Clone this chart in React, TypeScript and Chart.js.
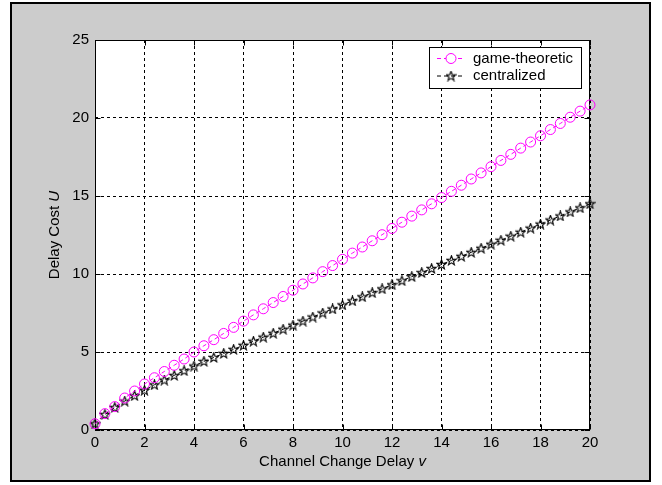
import React, { useEffect, useRef } from "react";
import { Chart, registerables } from "chart.js";

Chart.register(...registerables);

const delayV = [0, 0.4, 0.8, 1.2, 1.6, 2, 2.4, 2.8, 3.2, 3.6, 4, 4.4, 4.8, 5.2, 5.6, 6, 6.4, 6.8, 7.2, 7.6, 8, 8.4, 8.8, 9.2, 9.6, 10, 10.4, 10.8, 11.2, 11.6, 12, 12.4, 12.8, 13.2, 13.6, 14, 14.4, 14.8, 15.2, 15.6, 16, 16.4, 16.8, 17.2, 17.6, 18, 18.4, 18.8, 19.2, 19.6, 20];
const gameTheoretic = [0.4, 1.05, 1.5, 2.05, 2.5, 2.95, 3.35, 3.75, 4.15, 4.55, 5.0, 5.4, 5.79, 6.19, 6.58, 6.98, 7.38, 7.77, 8.17, 8.56, 8.96, 9.36, 9.75, 10.15, 10.54, 10.94, 11.34, 11.73, 12.13, 12.52, 12.92, 13.32, 13.71, 14.11, 14.5, 14.9, 15.3, 15.69, 16.09, 16.48, 16.88, 17.28, 17.67, 18.07, 18.46, 18.86, 19.26, 19.65, 20.05, 20.44, 20.84];
const centralized = [0.4, 1.0, 1.45, 1.85, 2.2, 2.55, 2.9, 3.2, 3.5, 3.8, 4.1, 4.4, 4.65, 4.91, 5.17, 5.43, 5.69, 5.95, 6.2, 6.46, 6.72, 6.98, 7.24, 7.5, 7.76, 8.02, 8.28, 8.54, 8.8, 9.05, 9.31, 9.57, 9.83, 10.09, 10.35, 10.61, 10.87, 11.13, 11.39, 11.65, 11.91, 12.16, 12.42, 12.68, 12.94, 13.2, 13.46, 13.72, 13.98, 14.24, 14.5];
const seriesLabels = ["game-theoretic", "centralized"];
const xTitleText = "Channel Change Delay ";
const xTitleVar = "v";
const yTitleText = "Delay Cost ";
const yTitleVar = "U";
const xRange = [0, 20];
const yRange = [0, 25];
const xStep = 2;
const yStep = 5;

const FONT = "'Liberation Sans', Arial, Helvetica, sans-serif";
const MAGENTA = "#ff00ff";

function makePentagram(): HTMLCanvasElement {
  const c = document.createElement("canvas");
  c.width = 11;
  c.height = 11;
  const g = c.getContext("2d")!;
  const cx = 5.5, cy = 5.8, R = 5, r = 2.1;
  g.beginPath();
  for (let i = 0; i < 10; i++) {
    const a = -Math.PI / 2 + (i * Math.PI) / 5;
    const rad = i % 2 === 0 ? R : r;
    const px = cx + rad * Math.cos(a);
    const py = cy + rad * Math.sin(a);
    if (i === 0) g.moveTo(px, py);
    else g.lineTo(px, py);
  }
  g.closePath();
  g.strokeStyle = "#000";
  g.lineWidth = 1.1;
  g.stroke();
  return c;
}

export default function App() {
  const ref = useRef<HTMLCanvasElement>(null);

  useEffect(() => {
    const canvas = ref.current!;
    const star = makePentagram();

    const framePlugin = {
      id: "frame",
      beforeDraw(chart: any) {
        const ctx = chart.ctx;
        const a = chart.chartArea;
        ctx.save();
        ctx.fillStyle = "#ffffff";
        ctx.fillRect(0, 0, chart.width, chart.height);
        ctx.fillStyle = "#cccccc";
        ctx.fillRect(10, 2, 641, 480);
        ctx.strokeStyle = "#000";
        ctx.lineWidth = 2;
        ctx.strokeRect(11, 3, 639, 478);
        ctx.fillStyle = "#ffffff";
        ctx.fillRect(a.left, a.top, a.right - a.left, a.bottom - a.top);
        ctx.restore();
      },
      beforeDatasetsDraw(chart: any) {
        const ctx = chart.ctx;
        const a = chart.chartArea;
        const xs = chart.scales.x;
        const ys = chart.scales.y;
        ctx.save();
        ctx.strokeStyle = "#000";
        ctx.lineWidth = 1;
        ctx.setLineDash([]);
        const L = Math.round(a.left) + 0.5, R = Math.round(a.right) - 0.5;
        const T = Math.round(a.top) + 0.5, B = Math.round(a.bottom) - 0.5;
        ctx.strokeRect(L, T, R - L, B - T);
        ctx.beginPath();
        for (const t of xs.ticks) {
          const px = Math.round(xs.getPixelForValue(t.value)) + 0.5;
          ctx.moveTo(px, B);
          ctx.lineTo(px, B - 5);
          ctx.moveTo(px, T);
          ctx.lineTo(px, T + 5);
        }
        for (const t of ys.ticks) {
          const py = Math.round(ys.getPixelForValue(t.value)) + 0.5;
          ctx.moveTo(L, py);
          ctx.lineTo(L + 5, py);
          ctx.moveTo(R, py);
          ctx.lineTo(R - 5, py);
        }
        ctx.stroke();

        // axis titles
        ctx.fillStyle = "#000";
        ctx.textBaseline = "middle";
        ctx.textAlign = "left";
        const normal = `15px ${FONT}`;
        const italic = `italic 15px ${FONT}`;
        ctx.font = normal;
        const w1 = ctx.measureText(xTitleText).width;
        ctx.font = italic;
        const w2 = ctx.measureText(xTitleVar).width;
        const cx = (a.left + a.right) / 2;
        const x0 = cx - (w1 + w2) / 2;
        ctx.font = normal;
        ctx.fillText(xTitleText, x0, 462);
        ctx.font = italic;
        ctx.fillText(xTitleVar, x0 + w1, 462);

        ctx.save();
        ctx.translate(55, (a.top + a.bottom) / 2);
        ctx.rotate(-Math.PI / 2);
        ctx.font = normal;
        const v1 = ctx.measureText(yTitleText).width;
        ctx.font = italic;
        const v2 = ctx.measureText(yTitleVar).width;
        const y0 = -(v1 + v2) / 2;
        ctx.font = normal;
        ctx.fillText(yTitleText, y0, 0);
        ctx.font = italic;
        ctx.fillText(yTitleVar, y0 + v1, 0);
        ctx.restore();
        ctx.restore();
      },
      afterDraw(chart: any) {
        const ctx = chart.ctx;
        ctx.save();
        const bx = 429, by = 47, bw = 153, bh = 42;
        ctx.fillStyle = "#fff";
        ctx.fillRect(bx, by, bw, bh);
        ctx.strokeStyle = "#000";
        ctx.lineWidth = 1;
        ctx.strokeRect(bx + 0.5, by + 0.5, bw - 1, bh - 1);
        const rows = [58.5, 76];
        chart.data.datasets.forEach((ds: any, i: number) => {
          const yy = rows[i];
          ctx.strokeStyle = ds.borderColor;
          ctx.setLineDash([4, 3]);
          ctx.beginPath();
          ctx.moveTo(437, yy);
          ctx.lineTo(464, yy);
          ctx.stroke();
          ctx.setLineDash([]);
          if (i === 0) {
            ctx.fillStyle = "#fff";
            ctx.beginPath();
            ctx.arc(451, yy, 5, 0, Math.PI * 2);
            ctx.fill();
            ctx.stroke();
          } else {
            ctx.drawImage(star, 451 - star.width / 2, yy - star.height / 2);
          }
          ctx.fillStyle = "#000";
          ctx.font = `15px ${FONT}`;
          ctx.textAlign = "left";
          ctx.textBaseline = "middle";
          ctx.fillText(ds.label, 473, yy);
        });
        ctx.restore();
      },
    };

    const chart = new Chart(canvas, {
      type: "line",
      data: {
        datasets: [
          {
            label: seriesLabels[0],
            data: delayV.map((x, i) => ({ x, y: gameTheoretic[i] })),
            borderColor: MAGENTA,
            backgroundColor: "rgba(0,0,0,0)",
            borderWidth: 1,
            borderDash: [4, 3],
            pointStyle: "circle",
            pointRadius: 5,
            pointBorderWidth: 1,
            pointBorderColor: MAGENTA,
            pointBackgroundColor: "rgba(0,0,0,0)",
            tension: 0,
          },
          {
            label: seriesLabels[1],
            data: delayV.map((x, i) => ({ x, y: centralized[i] })),
            borderColor: "#000",
            backgroundColor: "rgba(0,0,0,0)",
            borderWidth: 1,
            borderDash: [4, 3],
            pointStyle: star,
            pointRadius: 5,
            tension: 0,
          },
        ],
      },
      options: {
        responsive: false,
        animation: false,
        events: [],
        clip: false,
        layout: { padding: { left: 0, top: 40, right: 72, bottom: 0 } },
        plugins: {
          legend: { display: false },
          tooltip: { enabled: false },
          title: { display: false },
        },
        scales: {
          x: {
            type: "linear",
            min: xRange[0],
            max: xRange[1],
            ticks: {
              stepSize: xStep,
              color: "#000",
              font: { family: FONT, size: 15 },
              padding: 4,
              maxRotation: 0,
              autoSkip: false,
            },
            grid: { color: "#000", lineWidth: 1, drawTicks: false },
            border: { display: false, dash: [3, 3] },
            afterFit(scale: any) {
              scale.height = 55;
            },
          },
          y: {
            type: "linear",
            min: yRange[0],
            max: yRange[1],
            ticks: {
              stepSize: yStep,
              color: "#000",
              font: { family: FONT, size: 15 },
              padding: 6,
              autoSkip: false,
            },
            grid: { color: "#000", lineWidth: 1, drawTicks: false },
            border: { display: false, dash: [3, 3] },
            afterFit(scale: any) {
              scale.width = 95;
            },
          },
        },
      },
      plugins: [framePlugin],
    } as any);

    return () => chart.destroy();
  }, []);

  return (
    <div style={{ position: "absolute", left: 0, top: 0, width: 662, height: 485 }}>
      <canvas ref={ref} width={662} height={485} style={{ display: "block" }} />
    </div>
  );
}
